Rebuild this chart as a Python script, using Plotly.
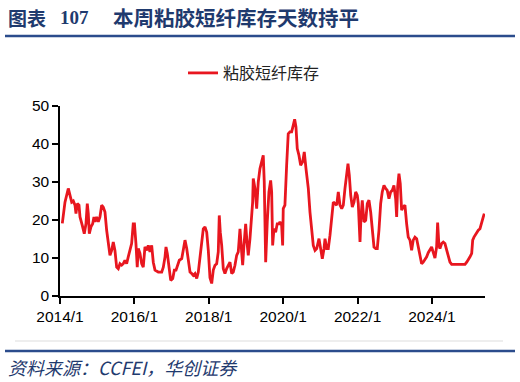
import plotly.graph_objects as go
from datetime import datetime

# ---- data (decimal year, inventory days) ----
t_year = [
    2014.062, 2014.134, 2014.223, 2014.269, 2014.315, 2014.358, 2014.403, 2014.430, 2014.465, 2014.511,
    2014.538, 2014.599, 2014.653, 2014.699, 2014.734, 2014.761, 2014.788, 2014.833, 2014.879, 2014.914,
    2014.941, 2014.987, 2015.030, 2015.075, 2015.121, 2015.164, 2015.210, 2015.255, 2015.298, 2015.344,
    2015.390, 2015.433, 2015.478, 2015.524, 2015.567, 2015.613, 2015.659, 2015.702, 2015.747, 2015.793,
    2015.836, 2015.882, 2015.927, 2015.970, 2016.003, 2016.043, 2016.078, 2016.105, 2016.151, 2016.196,
    2016.239, 2016.285, 2016.331, 2016.374, 2016.419, 2016.465, 2016.508, 2016.554, 2016.642, 2016.734,
    2016.777, 2016.823, 2016.849, 2016.884, 2016.930, 2016.976, 2017.030, 2017.073, 2017.118, 2017.164,
    2017.207, 2017.272, 2017.315, 2017.360, 2017.406, 2017.449, 2017.495, 2017.540, 2017.583, 2017.629,
    2017.675, 2017.718, 2017.763, 2017.809, 2017.852, 2017.898, 2017.944, 2017.987, 2018.032, 2018.078,
    2018.121, 2018.167, 2018.212, 2018.255, 2018.282, 2018.309, 2018.347, 2018.390, 2018.435, 2018.481,
    2018.524, 2018.570, 2018.616, 2018.659, 2018.704, 2018.750, 2018.793, 2018.839, 2018.884, 2018.911,
    2018.946, 2018.992, 2019.027, 2019.062, 2019.108, 2019.153, 2019.180, 2019.196, 2019.242, 2019.288,
    2019.331, 2019.376, 2019.422, 2019.465, 2019.492, 2019.530, 2019.573, 2019.618, 2019.664, 2019.691,
    2019.718, 2019.753, 2019.798, 2019.841, 2019.887, 2019.914, 2019.960, 2019.987, 2020.003, 2020.048,
    2020.094, 2020.137, 2020.183, 2020.228, 2020.271, 2020.309, 2020.344, 2020.379, 2020.425, 2020.470,
    2020.524, 2020.567, 2020.613, 2020.675, 2020.720, 2020.766, 2020.809, 2020.855, 2020.901, 2020.962,
    2021.008, 2021.051, 2021.097, 2021.124, 2021.169, 2021.212, 2021.258, 2021.304, 2021.347, 2021.392,
    2021.438, 2021.481, 2021.527, 2021.573, 2021.616, 2021.661, 2021.707, 2021.742, 2021.777, 2021.815,
    2021.858, 2021.903, 2021.949, 2021.992, 2022.019, 2022.065, 2022.091, 2022.126, 2022.172, 2022.218,
    2022.261, 2022.306, 2022.352, 2022.395, 2022.441, 2022.487, 2022.530, 2022.575, 2022.621, 2022.664,
    2022.710, 2022.755, 2022.798, 2022.844, 2022.890, 2022.933, 2022.978, 2023.024, 2023.051, 2023.078,
    2023.113, 2023.148, 2023.185, 2023.228, 2023.274, 2023.320, 2023.363, 2023.409, 2023.454, 2023.497,
    2023.543, 2023.589, 2023.632, 2023.677, 2023.723, 2023.766, 2023.812, 2023.858, 2023.901, 2023.946,
    2023.992, 2024.035, 2024.081, 2024.126, 2024.153, 2024.188, 2024.215, 2024.261, 2024.304, 2024.349,
    2024.395, 2024.438, 2024.484, 2024.530, 2024.618, 2024.707, 2024.798, 2024.887, 2024.933, 2024.976,
    2025.022, 2025.067, 2025.094, 2025.129, 2025.156, 2025.202, 2025.245, 2025.290, 2025.336, 2025.379,
    2025.406,
]
days = [
    19.1, 24.7, 28.3, 26.0, 24.7, 25.0, 23.9, 21.7, 24.3, 23.9,
    20.8, 18.6, 16.4, 19.0, 24.3, 21.7, 16.4, 18.2, 19.0, 20.8,
    19.5, 20.8, 19.5, 20.8, 23.9, 23.4, 22.1, 17.3, 13.8, 10.7,
    12.0, 14.2, 12.0, 7.6, 7.2, 8.5, 8.1, 8.5, 9.4, 8.5,
    10.3, 12.5, 13.8, 19.0, 19.0, 13.8, 7.6, 12.5, 11.2, 8.5,
    7.6, 12.9, 12.0, 13.3, 11.6, 13.3, 8.9, 6.8, 6.3, 6.3,
    7.6, 10.3, 12.9, 11.2, 6.8, 4.1, 4.6, 6.8, 6.8, 8.1,
    9.4, 9.8, 12.0, 14.7, 12.5, 8.9, 6.3, 5.9, 5.4, 5.9,
    4.6, 6.3, 10.3, 15.5, 17.7, 18.2, 16.8, 12.0, 4.8, 3.3,
    6.8, 8.1, 8.5, 11.6, 21.2, 16.8, 13.3, 7.2, 5.9, 7.2,
    8.1, 8.9, 5.9, 6.3, 8.1, 10.7, 11.6, 17.7, 11.6, 8.1,
    13.3, 19.0, 14.2, 10.7, 15.1, 21.2, 24.7, 30.9, 28.3, 23.0,
    30.0, 33.5, 35.3, 37.0, 30.0, 8.9, 19.5, 27.4, 30.4, 27.4,
    13.3, 17.7, 16.8, 19.0, 19.0, 19.5, 18.6, 13.3, 23.0, 23.9,
    34.4, 42.7, 43.2, 43.2, 44.9, 46.5, 44.5, 38.8, 37.0, 34.4,
    35.3, 37.9, 33.5, 28.3, 22.1, 17.7, 13.3, 12.0, 12.5, 15.1,
    12.5, 9.8, 12.5, 15.1, 12.5, 12.5, 16.0, 20.4, 24.7, 24.3,
    23.9, 27.4, 23.9, 23.0, 23.9, 28.3, 32.6, 34.8, 31.8, 26.5,
    23.4, 24.7, 27.4, 26.5, 24.3, 14.2, 20.8, 25.2, 19.5, 19.9,
    24.3, 25.2, 22.1, 16.4, 12.9, 12.5, 12.5, 17.3, 24.3, 27.4,
    29.1, 28.3, 27.8, 25.6, 27.4, 27.8, 29.1, 25.6, 20.8, 28.7,
    32.2, 29.6, 22.6, 23.4, 23.9, 19.0, 15.5, 14.7, 12.0, 14.7,
    15.5, 15.1, 12.9, 10.3, 8.5, 8.9, 9.6, 10.3, 11.4, 12.0,
    12.9, 11.5, 10.0, 12.9, 19.3, 13.3, 12.5, 13.8, 14.2, 13.8,
    12.0, 10.7, 8.9, 8.3, 8.3, 8.3, 8.3, 8.3, 8.9, 9.8,
    10.3, 11.2, 14.7, 15.5, 16.0, 16.8, 17.3, 17.7, 19.0, 20.8,
    21.7,
]
series_name = "粘胶短纤库存"
tick_dates = ["2014-01-01", "2016-01-01", "2018-01-01", "2020-01-01", "2022-01-01", "2024-01-01"]
tick_labels = ["2014/1", "2016/1", "2018/1", "2020/1", "2022/1", "2024/1"]
y_ticks = [0, 10, 20, 30, 40, 50]


def to_date(y):
    yr = int(y)
    a = datetime(yr, 1, 1)
    b = datetime(yr + 1, 1, 1)
    return a + (b - a) * (y - yr)


dates = [to_date(v) for v in t_year]

W, H = 520, 382
L, R, T, B = 60, 35, 106, 86
PW, PH = W - L - R, H - T - B


def px(x):
    return (x - L) / PW


def py(y):
    return (H - B - y) / PH


fig = go.Figure()
fig.add_trace(go.Scatter(
    x=dates, y=days, mode="lines", name=series_name,
    line=dict(color="#E8161F", width=2.8),
))

BLUE = "#1F3A6E"
fig.update_layout(
    width=W, height=H,
    margin=dict(l=L, r=R, t=T, b=B, autoexpand=False),
    paper_bgcolor="white", plot_bgcolor="white",
    font=dict(family="Liberation Sans, Arial, sans-serif", size=15, color="black"),
    showlegend=True,
    legend=dict(orientation="h", x=px(183), y=py(73), xanchor="left", yanchor="middle",
                font=dict(family="Noto Sans CJK SC", size=16, color="#222"),
                bgcolor="rgba(0,0,0,0)", itemwidth=30),
    xaxis=dict(
        type="date", range=[datetime(2014, 1, 1), to_date(2025.425)],
        tickvals=tick_dates, ticktext=tick_labels,
        showgrid=False, zeroline=False, automargin=False,
        showline=True, linecolor="black", linewidth=1.5,
        ticks="outside", ticklen=6, tickwidth=1.5, tickcolor="black",
        tickfont=dict(size=15.5),
    ),
    yaxis=dict(
        range=[0, 50], tickvals=y_ticks,
        showgrid=False, zeroline=False, automargin=False,
        showline=True, linecolor="black", linewidth=1.5,
        ticks="outside", ticklen=6, tickwidth=1.5, tickcolor="black",
        tickfont=dict(size=15.5),
    ),
    shapes=[
        dict(type="line", xref="paper", yref="paper", x0=px(5), x1=px(515), y0=py(36), y1=py(36),
             line=dict(color="#2B4C8C", width=2.5)),
        dict(type="line", xref="paper", yref="paper", x0=px(15), x1=px(503), y0=py(341), y1=py(341),
             line=dict(color="#DDDDDD", width=1)),
        dict(type="line", xref="paper", yref="paper", x0=px(5), x1=px(515), y0=py(351), y1=py(351),
             line=dict(color="#2B4C8C", width=2.5)),
    ],
    annotations=[
        dict(text="<b>图表</b>", xref="paper", yref="paper", x=px(6), y=py(17), xanchor="left",
             yanchor="middle", showarrow=False,
             font=dict(family="Noto Sans CJK SC", size=19, color=BLUE)),
        dict(text="<b>107</b>", xref="paper", yref="paper", x=px(58), y=py(17), xanchor="left",
             yanchor="middle", showarrow=False,
             font=dict(family="Liberation Serif, serif", size=19, color=BLUE)),
        dict(text="<b>本周粘胶短纤库存天数持平</b>", xref="paper", yref="paper", x=px(111), y=py(17),
             xanchor="left", yanchor="middle", showarrow=False,
             font=dict(family="Noto Sans CJK SC", size=20.5, color=BLUE)),
        dict(text="<i>资料来源：CCFEI，华创证券</i>", xref="paper", yref="paper", x=px(6), y=py(367),
             xanchor="left", yanchor="middle", showarrow=False,
             font=dict(family="Noto Sans CJK SC", size=18, color=BLUE)),
    ],
)

fig.write_html("out.html", config={"displayModeBar": False},
               post_script="document.body.style.margin='0';")
